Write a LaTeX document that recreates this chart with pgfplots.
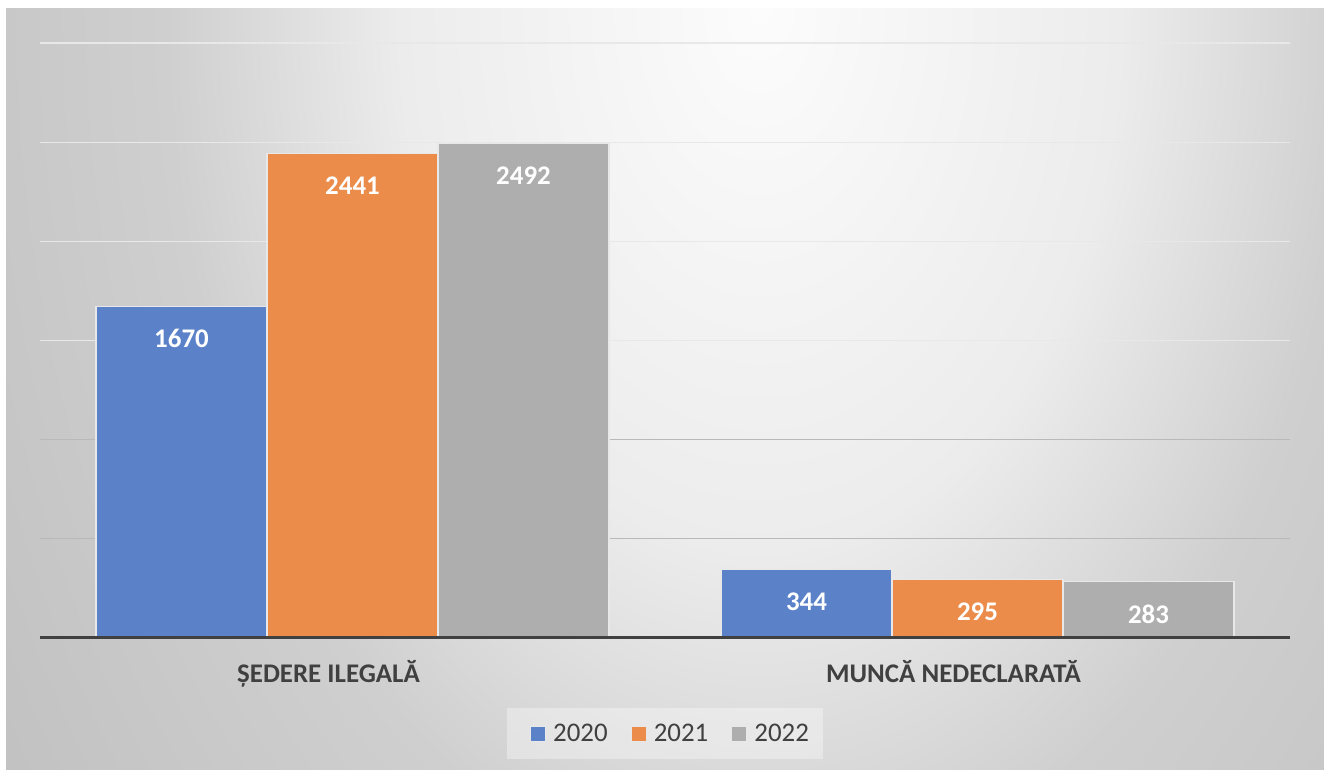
\documentclass[border=0pt]{standalone}
\usepackage{pgfplots}
\pgfplotsset{compat=1.18}
\usetikzlibrary{backgrounds}
\usepackage{fontspec}
\setmainfont{Carlito}
\definecolor{cblue}{RGB}{91,130,200}
\definecolor{corange}{RGB}{235,140,75}
\definecolor{cgray}{RGB}{174,174,174}
\definecolor{ctext}{RGB}{64,64,64}
\definecolor{baredge}{RGB}{232,232,232}
\definecolor{gridlight}{RGB}{232,232,232}
\definecolor{griddark}{RGB}{185,185,185}
\definecolor{bgA}{RGB}{252,252,252}
\definecolor{bgB}{RGB}{236,236,236}
\definecolor{bgC}{RGB}{218,218,218}
\definecolor{bgD}{RGB}{207,207,207}
\definecolor{bgE}{RGB}{200,200,200}
\definecolor{bgF}{RGB}{194,194,194}
\pgfdeclareradialshading{bgshade}{\pgfpoint{0bp}{0bp}}{color(0bp)=(bgA); color(10bp)=(bgB); color(14bp)=(bgC); color(16.5bp)=(bgD); color(21bp)=(bgE); color(25bp)=(bgF); color(50bp)=(bgF)}
\begin{document}
\begin{tikzpicture}[x=1bp,y=1bp]
\begin{axis}[
  width=1250bp, height=595bp, scale only axis,
  xmin=-0.5, xmax=1.5, ymin=0, ymax=3000,
  ybar=0pt, bar width=0.2736,
  axis line style={draw=none},
  tick style={draw=none}, major tick length=0pt,
  xtick={0,1},
  xticklabels={ȘEDERE ILEGALĂ, MUNCĂ NEDECLARATĂ},
  xticklabel style={font=\bfseries\fontsize{27}{27}\selectfont, text=ctext, anchor=base, yshift=-44bp, xshift=-24bp},
  ytick={1500,2000,2500,3000},
  yticklabels={},
  extra y ticks={500,1000},
  extra y tick labels={},
  extra y tick style={grid style={color=griddark, line width=1.3bp}},
  ymajorgrids,
  grid style={color=gridlight, line width=1.3bp},
  nodes near coords,
  /pgf/number format/1000 sep={},
  /pgf/number format/assume math mode=true,
  every node near coord/.append style={text=white, font=\bfseries\fontsize{27}{27}\selectfont, anchor=center, yshift=-32bp},
  legend columns=3,
  legend style={at={(0.5,-0.1605)}, anchor=center, draw=none, fill=white, fill opacity=0.35, text opacity=1,
    font=\fontsize{27}{27}\selectfont, text=ctext, inner xsep=14bp, inner ysep=16.5bp,
    nodes={inner xsep=0pt, inner ysep=0pt},
    /tikz/every odd column/.append style={column sep=7bp},
    /tikz/every even column/.append style={column sep=14bp}},
  legend image code/.code={\path (0bp,0bp); \draw[#1, fill opacity=1, draw=baredge, line width=1bp] (9bp,-7.5bp) rectangle (24bp,7.5bp);},
]
\addplot[fill=cblue, draw=baredge, line width=1.2bp] coordinates {(0,1670) (1,344)};
\addplot[fill=corange, draw=baredge, line width=1.2bp] coordinates {(0,2441) (1,295)};
\addplot[fill=cgray, draw=baredge, line width=1.2bp] coordinates {(0,2492) (1,283)};
\legend{2020,2021,2022}
\draw[ctext, line width=3.5bp] (rel axis cs:0,0) -- (rel axis cs:1,0);
\coordinate (O) at (rel axis cs:0,0);
\end{axis}
\pgfresetboundingbox
\path[use as bounding box] ([shift={(-40,-131)}]O) rectangle ([shift={(1284,638)}]O);
\begin{pgfonlayer}{background}
\begin{scope}
\clip ([shift={(-34,-131)}]O) rectangle ([shift={(1284,629)}]O);
\shade[shading=bgshade] ([shift={(-180,-721)}]O) rectangle ([shift={(1620,1979)}]O);
\end{scope}
\end{pgfonlayer}
\end{tikzpicture}
\end{document}
